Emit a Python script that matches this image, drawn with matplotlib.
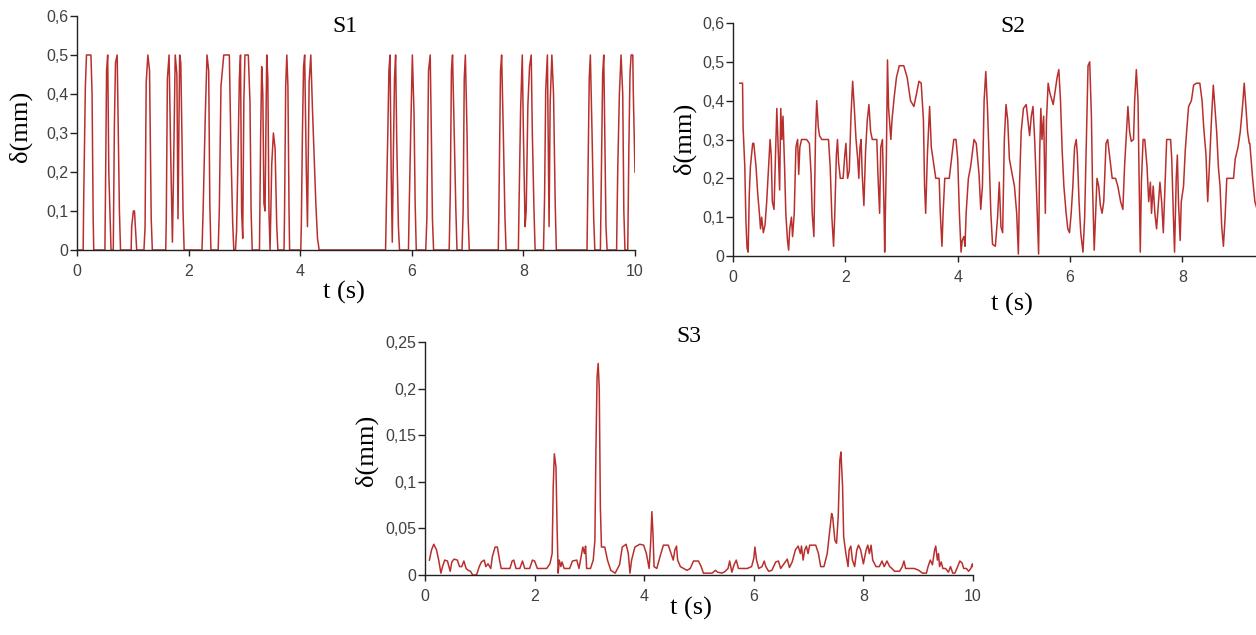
import numpy as np
import matplotlib.pyplot as plt
from matplotlib.ticker import FuncFormatter

# S1: pulses (time in s, displacement in mm)
s1_t = [0, 0.11, 0.12, 0.15, 0.17, 0.25, 0.27, 0.29, 0.30,
        0.50, 0.51, 0.53, 0.55, 0.57, 0.59, 0.61,
        0.65, 0.67, 0.69, 0.72, 0.74, 0.76, 0.78,
        0.97, 0.98, 1.01, 1.03, 1.05, 1.07,
        1.20, 1.22, 1.24, 1.27, 1.30, 1.33, 1.35,
        1.59, 1.60, 1.62, 1.65, 1.68, 1.71, 1.73, 1.76, 1.79, 1.81, 1.84, 1.86, 1.88, 1.90, 1.92,
        2.24, 2.26, 2.30, 2.33, 2.36, 2.38, 2.40,
        2.53, 2.55, 2.58, 2.63, 2.73, 2.76, 2.79, 2.81,
        2.84, 2.86, 2.88, 2.91, 2.93, 2.95, 2.97, 2.99, 3.01, 3.07, 3.10, 3.12, 3.14,
        3.27, 3.29, 3.31, 3.33, 3.35, 3.37, 3.40, 3.42, 3.44, 3.46, 3.49, 3.52, 3.55, 3.58, 3.60,
        3.71, 3.72, 3.74, 3.76, 3.78, 3.80, 3.81,
        4.01, 4.02, 4.04, 4.06, 4.08, 4.11, 4.13, 4.16, 4.19, 4.22, 4.25, 4.28, 4.31, 4.34,
        5.53, 5.55, 5.57, 5.59, 5.61, 5.63, 5.65, 5.67, 5.69, 5.71, 5.73, 5.76, 5.78,
        5.94, 5.95, 5.98, 6.01, 6.04, 6.06, 6.08,
        6.25, 6.27, 6.30, 6.33, 6.35, 6.37, 6.39,
        6.67, 6.69, 6.71, 6.73, 6.76, 6.79, 6.81,
        6.90, 6.92, 6.94, 6.96, 6.99, 7.01, 7.03,
        7.55, 7.56, 7.59, 7.61, 7.64, 7.67, 7.69,
        7.91, 7.92, 7.95, 7.98, 8.00, 8.03, 8.05, 8.08, 8.11, 8.14, 8.16, 8.19, 8.21,
        8.36, 8.38, 8.40, 8.43, 8.46, 8.48, 8.51, 8.54, 8.57, 8.59,
        9.14, 9.16, 9.18, 9.20, 9.23, 9.26, 9.28,
        9.38, 9.40, 9.42, 9.44, 9.46, 9.48, 9.50,
        9.67, 9.69, 9.72, 9.75, 9.78, 9.80, 9.82,
        9.87, 9.89, 9.91, 9.93, 9.96, 9.97, 9.98, 10.0]
s1_v = [0, 0, 0.13, 0.42, 0.5, 0.5, 0.40, 0.08, 0,
        0, 0.14, 0.46, 0.5, 0.20, 0.10, 0,
        0, 0.32, 0.48, 0.5, 0.30, 0.10, 0,
        0, 0.06, 0.10, 0.10, 0.05, 0,
        0, 0.06, 0.43, 0.5, 0.46, 0.08, 0,
        0, 0.08, 0.44, 0.5, 0.24, 0.02, 0.20, 0.5, 0.45, 0.08, 0.5, 0.48, 0.30, 0.10, 0,
        0, 0.10, 0.35, 0.5, 0.46, 0.12, 0,
        0, 0.10, 0.42, 0.5, 0.5, 0.25, 0.07, 0,
        0, 0.05, 0.20, 0.44, 0.5, 0.10, 0.03, 0.38, 0.5, 0.5, 0.38, 0.10, 0,
        0, 0.28, 0.47, 0.40, 0.12, 0.10, 0.5, 0.44, 0.10, 0.0, 0.22, 0.30, 0.26, 0.06, 0,
        0, 0.10, 0.42, 0.5, 0.42, 0.10, 0,
        0, 0.06, 0.30, 0.47, 0.5, 0.20, 0.06, 0.43, 0.5, 0.36, 0.24, 0.12, 0.03, 0,
        0, 0.16, 0.30, 0.46, 0.5, 0.20, 0.02, 0.25, 0.44, 0.5, 0.28, 0.06, 0,
        0, 0.08, 0.30, 0.5, 0.35, 0.12, 0,
        0, 0.08, 0.46, 0.5, 0.30, 0.08, 0,
        0, 0.15, 0.46, 0.5, 0.30, 0.10, 0,
        0, 0.10, 0.44, 0.5, 0.30, 0.08, 0,
        0, 0.10, 0.46, 0.5, 0.30, 0.08, 0,
        0, 0.10, 0.36, 0.5, 0.30, 0.06, 0.10, 0.37, 0.47, 0.5, 0.30, 0.10, 0,
        0, 0.14, 0.41, 0.5, 0.06, 0.38, 0.5, 0.40, 0.12, 0,
        0, 0.23, 0.44, 0.5, 0.30, 0.08, 0,
        0, 0.22, 0.45, 0.5, 0.28, 0.06, 0,
        0, 0.20, 0.40, 0.5, 0.40, 0.10, 0,
        0, 0.26, 0.45, 0.5, 0.5, 0.40, 0.33, 0.20]

# S2
s2_t = [0.12, 0.17, 0.18, 0.21, 0.23, 0.25, 0.27, 0.29, 0.31, 0.35, 0.37, 0.41, 0.44, 0.47, 0.49,
        0.51, 0.54, 0.57, 0.60, 0.63, 0.66, 0.68, 0.70, 0.73, 0.78, 0.81, 0.83, 0.85, 0.87,
        0.89, 0.92, 0.94, 0.97, 0.99, 1.01, 1.04, 1.06, 1.09, 1.12, 1.15, 1.17, 1.19, 1.22,
        1.31, 1.36, 1.39, 1.41, 1.44, 1.46, 1.47, 1.49, 1.52, 1.54, 1.58, 1.70, 1.73, 1.76,
        1.79, 1.81, 1.84, 1.86, 1.88, 1.91, 1.96, 1.99, 2.01, 2.04, 2.07, 2.10, 2.13, 2.16,
        2.19, 2.22, 2.24, 2.26, 2.28, 2.30, 2.33, 2.36, 2.39, 2.42, 2.45, 2.48, 2.56, 2.58,
        2.61, 2.63, 2.66, 2.69, 2.70, 2.73, 2.75, 2.77, 2.81, 2.83, 2.87, 2.91, 2.96, 3.04,
        3.10, 3.16, 3.22, 3.27, 3.31, 3.35, 3.39, 3.41, 3.43, 3.46, 3.50, 3.53, 3.56, 3.61,
        3.67, 3.69, 3.72, 3.74, 3.77, 3.85, 3.89, 3.93, 3.97, 4.00, 4.03, 4.06, 4.08, 4.11,
        4.13, 4.15, 4.19, 4.23, 4.29, 4.33, 4.38, 4.41, 4.44, 4.47, 4.50, 4.53, 4.56, 4.59,
        4.62, 4.67, 4.71, 4.74, 4.77, 4.80, 4.83, 4.86, 4.89, 4.92, 4.97, 5.01, 5.05, 5.08,
        5.10, 5.13, 5.17, 5.22, 5.25, 5.28, 5.31, 5.34, 5.37, 5.40, 5.44, 5.46, 5.48, 5.50,
        5.53, 5.56, 5.58, 5.61, 5.64, 5.70, 5.73, 5.77, 5.80, 5.83, 5.86, 5.89, 5.93, 5.96,
        5.99, 6.02, 6.05, 6.08, 6.11, 6.13, 6.16, 6.19, 6.23, 6.26, 6.29, 6.32, 6.35, 6.38,
        6.40, 6.43, 6.45, 6.48, 6.51, 6.54, 6.57, 6.60, 6.64, 6.67, 6.71, 6.75, 6.81, 6.85,
        6.90, 6.94, 6.97, 7.00, 7.03, 7.06, 7.09, 7.13, 7.15, 7.18, 7.21, 7.23, 7.25, 7.27,
        7.30, 7.33, 7.37, 7.40, 7.43, 7.45, 7.48, 7.51, 7.54, 7.57, 7.60, 7.63, 7.66, 7.69,
        7.72, 7.79, 7.81, 7.84, 7.86, 7.89, 7.91, 7.93, 7.96, 7.98, 8.02, 8.05, 8.08, 8.11,
        8.16, 8.20, 8.25, 8.31, 8.35, 8.38, 8.42, 8.45, 8.48, 8.52, 8.55, 8.58, 8.61, 8.64,
        8.67, 8.70, 8.73, 8.76, 8.79, 8.85, 8.91, 8.94, 8.99, 9.03, 9.07, 9.10, 9.13, 9.16,
        9.19, 9.20, 9.25, 9.29, 9.33]
s2_v = [0.445, 0.445, 0.33, 0.23, 0.09, 0.02, 0.01, 0.16, 0.23, 0.29, 0.29, 0.23, 0.16, 0.11, 0.07,
        0.10, 0.06, 0.08, 0.14, 0.22, 0.30, 0.26, 0.14, 0.12, 0.38, 0.25, 0.17, 0.38, 0.30,
        0.36, 0.22, 0.11, 0.04, 0.015, 0.07, 0.10, 0.05, 0.11, 0.28, 0.30, 0.21, 0.28, 0.30,
        0.30, 0.29, 0.21, 0.11, 0.05, 0.23, 0.32, 0.40, 0.33, 0.31, 0.30, 0.30, 0.23, 0.10,
        0.025, 0.10, 0.26, 0.30, 0.24, 0.20, 0.20, 0.26, 0.29, 0.20, 0.22, 0.36, 0.45, 0.38,
        0.30, 0.25, 0.20, 0.28, 0.30, 0.21, 0.13, 0.27, 0.35, 0.39, 0.32, 0.30, 0.30, 0.21,
        0.11, 0.28, 0.30, 0.11, 0.01, 0.25, 0.505, 0.38, 0.30, 0.35, 0.41, 0.46, 0.49, 0.49,
        0.46, 0.40, 0.385, 0.42, 0.45, 0.445, 0.35, 0.18, 0.11, 0.26, 0.385, 0.28, 0.25, 0.20,
        0.20, 0.11, 0.025, 0.11, 0.20, 0.20, 0.25, 0.30, 0.30, 0.25, 0.11, 0.01, 0.04, 0.05,
        0.025, 0.11, 0.20, 0.23, 0.30, 0.29, 0.21, 0.12, 0.18, 0.40, 0.475, 0.38, 0.25, 0.11,
        0.03, 0.025, 0.10, 0.19, 0.075, 0.06, 0.30, 0.39, 0.35, 0.25, 0.21, 0.18, 0.11, 0.005,
        0.18, 0.32, 0.38, 0.39, 0.35, 0.31, 0.36, 0.385, 0.30, 0.18, 0.005, 0.27, 0.38, 0.30,
        0.36, 0.11, 0.35, 0.445, 0.42, 0.39, 0.42, 0.46, 0.48, 0.40, 0.27, 0.18, 0.11, 0.07,
        0.06, 0.11, 0.18, 0.28, 0.30, 0.26, 0.14, 0.06, 0.01, 0.10, 0.30, 0.49, 0.50, 0.36,
        0.18, 0.015, 0.09, 0.20, 0.18, 0.13, 0.11, 0.14, 0.29, 0.30, 0.25, 0.20, 0.20, 0.18,
        0.14, 0.12, 0.23, 0.31, 0.385, 0.32, 0.295, 0.30, 0.40, 0.48, 0.40, 0.19, 0.01, 0.19,
        0.30, 0.30, 0.23, 0.14, 0.19, 0.11, 0.18, 0.11, 0.07, 0.13, 0.19, 0.14, 0.06, 0.18,
        0.30, 0.30, 0.25, 0.10, 0.01, 0.20, 0.26, 0.14, 0.04, 0.14, 0.18, 0.27, 0.33, 0.385,
        0.40, 0.44, 0.445, 0.445, 0.40, 0.33, 0.26, 0.14, 0.23, 0.36, 0.44, 0.38, 0.32, 0.23,
        0.18, 0.075, 0.025, 0.10, 0.20, 0.20, 0.20, 0.25, 0.28, 0.32, 0.385, 0.445, 0.385, 0.32,
        0.29, 0.29, 0.20, 0.14, 0.12]

# S3
s3_t = [0.08, 0.12, 0.16, 0.21, 0.25, 0.29, 0.32, 0.36, 0.41, 0.46, 0.49, 0.53, 0.59, 0.63, 0.67,
        0.71, 0.75, 0.79, 0.83, 0.87, 0.94, 0.99, 1.03, 1.08, 1.11, 1.15, 1.20, 1.23, 1.28,
        1.32, 1.36, 1.39, 1.49, 1.55, 1.59, 1.62, 1.66, 1.73, 1.78, 1.82, 1.91, 1.96, 2.00,
        2.05, 2.22, 2.28, 2.32, 2.34, 2.36, 2.39, 2.41, 2.43, 2.45, 2.48, 2.50, 2.54, 2.64,
        2.69, 2.77, 2.81, 2.86, 2.88, 2.91, 2.93, 2.95, 3.02, 3.07, 3.10, 3.12, 3.14, 3.16,
        3.18, 3.20, 3.22, 3.28, 3.33, 3.39, 3.47, 3.55, 3.60, 3.67, 3.71, 3.74, 3.77, 3.83,
        3.92, 3.99, 4.04, 4.09, 4.12, 4.14, 4.16, 4.18, 4.23, 4.29, 4.35, 4.44, 4.49, 4.53,
        4.56, 4.59, 4.61, 4.66, 4.72, 4.78, 4.84, 4.90, 4.99, 5.04, 5.08, 5.24, 5.30, 5.34,
        5.42, 5.48, 5.53, 5.56, 5.58, 5.60, 5.64, 5.68, 5.72, 5.79, 5.88, 5.96, 6.00, 6.02,
        6.05, 6.09, 6.15, 6.19, 6.22, 6.27, 6.33, 6.40, 6.45, 6.49, 6.55, 6.61, 6.65, 6.70,
        6.76, 6.81, 6.85, 6.87, 6.90, 6.93, 6.96, 6.99, 7.02, 7.13, 7.18, 7.22, 7.28, 7.34,
        7.38, 7.42, 7.44, 7.48, 7.51, 7.54, 7.57, 7.59, 7.62, 7.64, 7.68, 7.72, 7.74, 7.77,
        7.80, 7.84, 7.88, 7.91, 7.95, 8.00, 8.05, 8.08, 8.11, 8.14, 8.17, 8.23, 8.29, 8.34,
        8.38, 8.43, 8.48, 8.52, 8.57, 8.66, 8.71, 8.74, 8.77, 8.84, 8.93, 9.01, 9.08, 9.15,
        9.18, 9.22, 9.26, 9.30, 9.32, 9.35, 9.37, 9.39, 9.42, 9.45, 9.50, 9.55, 9.59, 9.63,
        9.67, 9.72, 9.76, 9.80, 9.83, 9.88, 9.92, 9.96, 9.99, 10.0]
s3_v = [0.016, 0.027, 0.033, 0.027, 0.016, 0.002, 0.009, 0.016, 0.015, 0.004, 0.014, 0.017, 0.016, 0.009, 0.009,
        0.015, 0.007, 0.005, 0.004, 0.0, 0.0, 0.009, 0.014, 0.016, 0.009, 0.012, 0.007, 0.020, 0.030,
        0.030, 0.016, 0.007, 0.007, 0.007, 0.015, 0.016, 0.007, 0.007, 0.015, 0.007, 0.007, 0.016, 0.015,
        0.007, 0.007, 0.012, 0.023, 0.095, 0.130, 0.116, 0.052, 0.002, 0.016, 0.009, 0.014, 0.007, 0.007,
        0.015, 0.016, 0.007, 0.023, 0.030, 0.023, 0.031, 0.007, 0.007, 0.016, 0.037, 0.137, 0.212, 0.227,
        0.200, 0.073, 0.030, 0.030, 0.016, 0.005, 0.002, 0.011, 0.030, 0.033, 0.023, 0.002, 0.016, 0.030,
        0.033, 0.032, 0.023, 0.007, 0.037, 0.068, 0.045, 0.009, 0.007, 0.020, 0.032, 0.032, 0.023, 0.016,
        0.027, 0.031, 0.016, 0.009, 0.007, 0.005, 0.007, 0.015, 0.015, 0.009, 0.002, 0.002, 0.005, 0.003,
        0.002, 0.004, 0.007, 0.015, 0.009, 0.003, 0.011, 0.016, 0.007, 0.007, 0.007, 0.009, 0.018, 0.030,
        0.016, 0.007, 0.009, 0.015, 0.009, 0.004, 0.005, 0.014, 0.015, 0.007, 0.012, 0.017, 0.008, 0.014,
        0.027, 0.031, 0.023, 0.031, 0.016, 0.027, 0.031, 0.023, 0.032, 0.032, 0.023, 0.009, 0.009, 0.023,
        0.045, 0.066, 0.062, 0.037, 0.034, 0.062, 0.123, 0.132, 0.095, 0.041, 0.023, 0.009, 0.027, 0.031,
        0.016, 0.009, 0.027, 0.032, 0.027, 0.012, 0.027, 0.032, 0.023, 0.032, 0.016, 0.009, 0.009, 0.015,
        0.009, 0.015, 0.009, 0.007, 0.004, 0.004, 0.009, 0.015, 0.007, 0.007, 0.007, 0.005, 0.002, 0.002,
        0.009, 0.016, 0.011, 0.027, 0.031, 0.016, 0.023, 0.009, 0.014, 0.007, 0.007, 0.003, 0.009, 0.002,
        0.002, 0.009, 0.015, 0.013, 0.007, 0.007, 0.004, 0.007, 0.012, 0.009]

line_color = "#b8302e"
serif = "Liberation Serif"
sans = "Liberation Sans"


def comma_fmt(v, pos):
    if abs(v) < 1e-9:
        return "0"
    return ("%g" % round(v, 3)).replace(".", ",")


def style_axes(ax, xlim, ylim, xticks, yticks):
    # ticks first, then limits (set_xticks would widen the view otherwise)
    ax.set_xticks(xticks)
    ax.set_yticks(yticks)
    ax.set_xlim(*xlim)
    ax.set_ylim(*ylim)
    ax.yaxis.set_major_formatter(FuncFormatter(comma_fmt))
    for s in ["top", "right"]:
        ax.spines[s].set_visible(False)
    for s in ["left", "bottom"]:
        ax.spines[s].set_color("#222222")
        ax.spines[s].set_linewidth(1.0)
    ax.tick_params(axis="y", direction="out", length=5, width=1, color="#222222",
                   labelsize=11.5, labelcolor="#404040", pad=1)
    ax.tick_params(axis="x", direction="out", length=4, width=1, color="#222222",
                   labelsize=11.5, labelcolor="#404040", pad=6)
    for lab in ax.get_xticklabels() + ax.get_yticklabels():
        lab.set_fontfamily(sans)


fig = plt.figure(figsize=(12.56, 6.35), dpi=100)

ax1 = fig.add_axes([77 / 1256, 1 - 250 / 635, 558 / 1256, 234 / 635])
ax1.plot(s1_t, s1_v, color=line_color, lw=1.1)
style_axes(ax1, (0, 10), (0, 0.6), [0, 2, 4, 6, 8, 10], [0, 0.1, 0.2, 0.3, 0.4, 0.5, 0.6])

ax2 = fig.add_axes([733 / 1256, 1 - 256 / 635, 523 / 1256, 233 / 635])
ax2.plot(s2_t, s2_v, color=line_color, lw=1.1)
style_axes(ax2, (0, 9.31), (0, 0.6), [0, 2, 4, 6, 8], [0, 0.1, 0.2, 0.3, 0.4, 0.5, 0.6])

ax3 = fig.add_axes([425 / 1256, 1 - 575 / 635, 548 / 1256, 233 / 635])
ax3.plot(s3_t, s3_v, color=line_color, lw=1.1)
style_axes(ax3, (0, 10), (0, 0.25), [0, 2, 4, 6, 8, 10], [0, 0.05, 0.1, 0.15, 0.2, 0.25])

# panel titles and axis labels
W, H = 1256, 635
for x, y, s in [(345, 26, "S1"), (1013, 26, "S2"), (689, 337, "S3")]:
    fig.text(x / W, 1 - y / H, s, ha="center", va="center", fontsize=17, family=serif)
for x, y in [(344, 292), (1012, 304), (691, 608)]:
    fig.text(x / W, 1 - y / H, "t (s)", ha="center", va="center", fontsize=19, family=serif)
for x, y in [(20, 126), (684, 138), (366, 450)]:
    fig.text(x / W, 1 - y / H, "δ(mm)", ha="center", va="center", fontsize=19,
             family=serif, rotation=90)

fig.savefig("out.png", dpi=100)
